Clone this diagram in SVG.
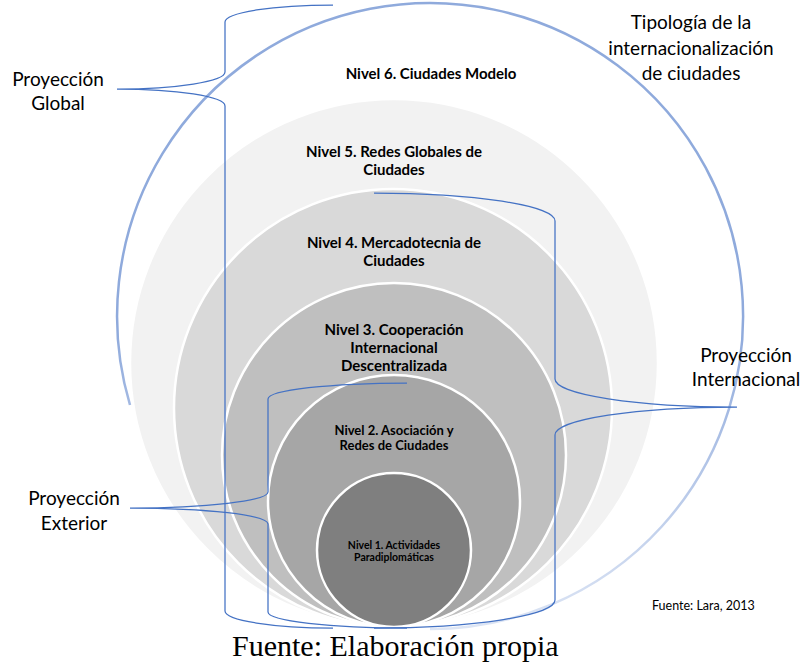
<svg xmlns="http://www.w3.org/2000/svg" width="803" height="664" viewBox="0 0 803 664">
  <defs>
    <style>
      .lvl { stroke: #ffffff; stroke-width: 2.5; }
      .bl { font-family: Lato, "Liberation Sans", sans-serif; font-weight: bold; fill: #000; text-anchor: middle; }
      .rg { font-family: Lato, "Liberation Sans", sans-serif; font-size: 19px; fill: #000; text-anchor: middle; }
      .brace { fill: none; stroke: #4472c4; stroke-width: 1.25; }
    </style>
    <linearGradient id="fade" gradientUnits="userSpaceOnUse" x1="0" y1="330" x2="0" y2="630">
      <stop offset="0" stop-color="#8faadc" stop-opacity="1"/>
      <stop offset="1" stop-color="#8faadc" stop-opacity="0.3"/>
    </linearGradient>
  </defs>
  <rect width="803" height="664" fill="#ffffff"/>

  <g id="level6">
    <path d="M130,405 A313,313 0 1 1 430,629" fill="none" stroke="url(#fade)" stroke-width="2.5"/>
    <text class="bl" x="431" y="79" font-size="15">Nivel 6. Ciudades Modelo</text>
  </g>
  <g id="level5">
    <circle class="lvl" cx="394" cy="363" r="264" fill="#f2f2f2"/>
    <text class="bl" font-size="15"><tspan x="394" y="157">Nivel 5. Redes Globales de</tspan><tspan x="394" y="175">Ciudades</tspan></text>
  </g>
  <g id="level4">
    <circle class="lvl" cx="393" cy="408" r="219" fill="#d9d9d9"/>
    <text class="bl" font-size="15"><tspan x="394" y="248">Nivel 4. Mercadotecnia de</tspan><tspan x="394" y="266">Ciudades</tspan></text>
  </g>
  <g id="level3">
    <circle class="lvl" cx="394" cy="455" r="172" fill="#bfbfbf"/>
    <text class="bl" font-size="15"><tspan x="394" y="335">Nivel 3. Cooperación</tspan><tspan x="394" y="353">Internacional</tspan><tspan x="394" y="371">Descentralizada</tspan></text>
  </g>
  <g id="level2">
    <circle class="lvl" cx="394" cy="501" r="126" fill="#a6a6a6"/>
    <text class="bl" font-size="13"><tspan x="394" y="435">Nivel 2. Asociación y</tspan><tspan x="394" y="450">Redes de Ciudades</tspan></text>
  </g>
  <g id="level1">
    <circle class="lvl" cx="394" cy="550" r="77" fill="#7f7f7f"/>
    <text class="bl" font-size="10.5" fill="#111"><tspan x="394" y="549">Nivel 1. Actividades</tspan><tspan x="394" y="561">Paradiplomáticas</tspan></text>
  </g>

  <g id="connectors">
    <path class="brace" d="M333,5 A108,17 0 0 0 225,22 L225,72 A108,17 0 0 1 117,89 A108,17 0 0 1 225,106 L225,611 A108,17 0 0 0 333,628"/>
    <path class="brace" d="M407,383 A139,16 0 0 0 268,399 L268,492 A138,16 0 0 1 130,508 A138,16 0 0 1 268,524 L268,612 A139,16 0 0 0 407,628"/>
    <path class="brace" d="M374,193 A181,28 0 0 1 555,221 L555,379 A182,28 0 0 0 737,407 A182,28 0 0 0 555,435 L555,600 A181,28 0 0 1 374,628"/>
  </g>

  <g id="title-typology">
    <text class="rg"><tspan x="691" y="29">Tipología de la</tspan><tspan x="691" y="55">internacionalización</tspan><tspan x="691" y="80">de ciudades</tspan></text>
  </g>
  <g id="proj-global">
    <text class="rg"><tspan x="58" y="86">Proyección</tspan><tspan x="58" y="110">Global</tspan></text>
  </g>
  <g id="proj-internacional">
    <text class="rg"><tspan x="746" y="362">Proyección</tspan><tspan x="746" y="386">Internacional</tspan></text>
  </g>
  <g id="proj-exterior">
    <text class="rg"><tspan x="74" y="505">Proyección</tspan><tspan x="74" y="530">Exterior</tspan></text>
  </g>
  <g id="source-lara">
    <text x="652" y="610" font-family="Lato, 'Liberation Sans', sans-serif" font-size="12.5" fill="#000">Fuente: Lara, 2013</text>
  </g>
  <g id="caption">
    <text x="232" y="656" font-family="'Liberation Serif', serif" font-size="30" fill="#000">Fuente: Elaboración propia</text>
  </g>
</svg>
